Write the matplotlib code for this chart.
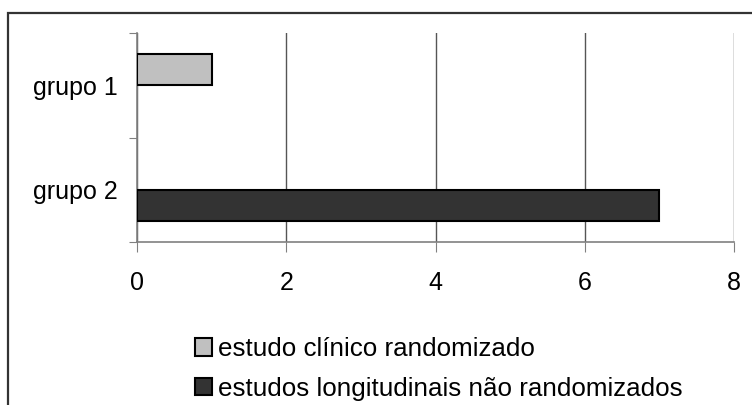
import numpy as np
import matplotlib.pyplot as plt
from matplotlib.patches import Rectangle

plt.rcParams['font.family'] = ['Liberation Sans', 'DejaVu Sans']

# data
groups = ['grupo 1', 'grupo 2']
series = ['estudo clínico randomizado', 'estudos longitudinais não randomizados']
values = {
    'estudo clínico randomizado': [1, 0],
    'estudos longitudinais não randomizados': [0, 7],
}
colors = ['#c0c0c0', '#333333']
xticks = [0, 2, 4, 6, 8]

fig = plt.figure(figsize=(7.52, 4.05), dpi=100)
ax = fig.add_axes([137/752, 1-242/405, (734-137)/752, (242-33)/405])

# outer frame, cut off on the right and bottom like the original
fig.patches.append(Rectangle((8/752, -0.2), 1.2, 1.2 - 13/405, transform=fig.transFigure,
                             fill=False, edgecolor='#333333', linewidth=1.6, clip_on=False))

y = np.arange(len(groups))
h = 0.3
offsets = [-h/2, h/2]
for i, s in enumerate(series):
    v = np.array(values[s], dtype=float)
    # zero-length bars are not drawn in the original
    lw = np.where(v > 0, 1.5, 0.0)
    ax.barh(y + offsets[i], v, height=h, color=colors[i], edgecolor='black',
            linewidth=lw, label=s, zorder=3)

ax.set_xlim(0, 8)
ax.set_ylim(1.5, -0.5)
ax.set_xticks(xticks)
ax.set_xticklabels([str(t) for t in xticks], fontsize=18)
ax.set_yticks([-0.5, 0.5, 1.5])
ax.set_yticklabels([])
ax.set_yticks(y, minor=True)
ax.set_yticklabels(groups, minor=True, fontsize=18)
ax.tick_params(axis='y', which='major', direction='out', length=6, color='#808080')
ax.tick_params(axis='y', which='minor', length=0, pad=14)
ax.tick_params(axis='x', direction='out', length=7, color='#808080', pad=14)

ax.grid(axis='x', color='#555555', linewidth=1, zorder=0)
for side in ['top', 'right']:
    ax.spines[side].set_visible(False)
for side in ['left', 'bottom']:
    ax.spines[side].set_color('#808080')
    ax.spines[side].set_linewidth(1.2)

leg = ax.legend(loc='upper left', bbox_to_anchor=(195/752, 1-337/405), bbox_transform=fig.transFigure,
                frameon=False, fontsize=18.7, handlelength=0.65, handleheight=0.65, handletextpad=0.25,
                labelspacing=0.6, borderaxespad=0, borderpad=0)
for p in leg.get_patches():
    p.set_linewidth(1.5)

fig.savefig('out.png', dpi=100)
